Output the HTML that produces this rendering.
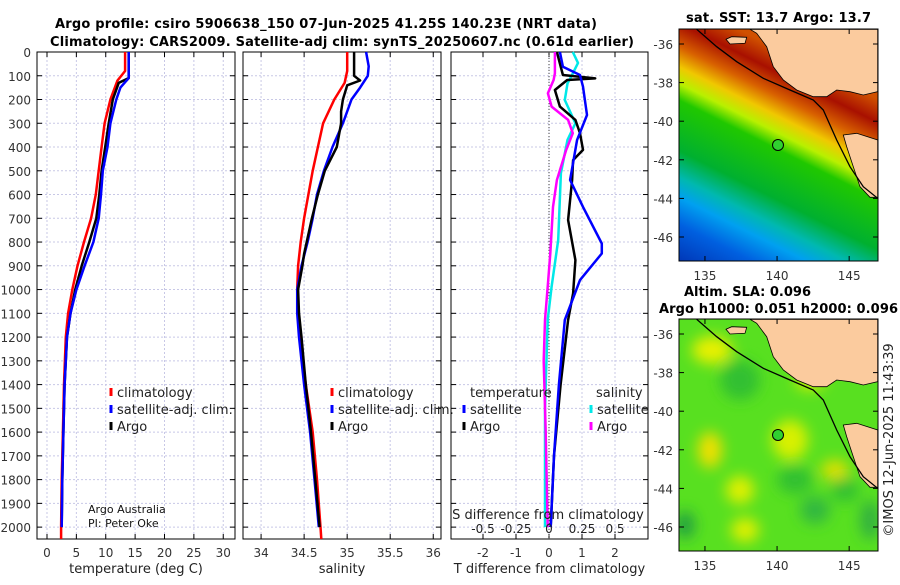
<!DOCTYPE html>
<html><head><meta charset="utf-8"><style>
body{margin:0;background:#fff}
svg text{font-family:"DejaVu Sans","Liberation Sans",sans-serif}
</style></head><body>
<svg id="s" width="900" height="580" viewBox="0 0 900 580" xmlns="http://www.w3.org/2000/svg">
<defs>
<linearGradient id="sst" gradientUnits="userSpaceOnUse" x1="760" y1="0" x2="626" y2="268">
<stop offset="0.12" stop-color="#d05000"/><stop offset="0.19" stop-color="#a81000"/>
<stop offset="0.26" stop-color="#d86000"/><stop offset="0.32" stop-color="#f0c800"/>
<stop offset="0.37" stop-color="#b8f000"/><stop offset="0.42" stop-color="#20c800"/>
<stop offset="0.57" stop-color="#00b030"/><stop offset="0.65" stop-color="#00b8b0"/>
<stop offset="0.71" stop-color="#00a0f0"/><stop offset="0.79" stop-color="#0060e0"/>
<stop offset="0.92" stop-color="#0030b0"/></linearGradient>
<filter id="bl"><feGaussianBlur stdDeviation="7"/></filter>
<clipPath id="c1"><rect x="679" y="29" width="199" height="232"/></clipPath>
<clipPath id="c2"><rect x="679" y="319" width="199" height="232"/></clipPath>
</defs>
<text x="55" y="28" font-size="13" font-weight="bold" textLength="542">Argo profile: csiro 5906638_150 07-Jun-2025 41.25S 140.23E (NRT data)</text>
<text x="50" y="46" font-size="13" font-weight="bold" textLength="584">Climatology: CARS2009. Satellite-adj clim: synTS_20250607.nc (0.61d earlier)</text>
<g id="panels"></g>

<!-- SST map -->
<g>
<text x="686" y="22" font-size="13" font-weight="bold" textLength="185">sat. SST: 13.7 Argo: 13.7</text>
<g clip-path="url(#c1)">
<rect x="679" y="29" width="199" height="232" fill="url(#sst)"/>
<g id="land1"></g>
</g>
<rect x="679" y="29" width="199" height="232" fill="none" stroke="#000" stroke-width="1"/>
<circle cx="778" cy="145" r="5.5" fill="#30d030" stroke="#000"/>
</g>
<!-- SLA map -->
<g>
<text x="684" y="296" font-size="13" font-weight="bold" textLength="127">Altim. SLA: 0.096</text>
<text x="659" y="313" font-size="13" font-weight="bold" textLength="239">Argo h1000: 0.051 h2000: 0.096</text>
<g clip-path="url(#c2)">
<rect x="679" y="319" width="199" height="232" fill="#58e020"/>
<g filter="url(#bl)">
<ellipse cx="712" cy="350" rx="20" ry="14" fill="#e8f000"/>
<ellipse cx="740" cy="380" rx="20" ry="20" fill="#30c030"/>
<ellipse cx="710" cy="450" rx="12" ry="18" fill="#f0e000"/>
<ellipse cx="740" cy="490" rx="14" ry="14" fill="#e0f000"/>
<ellipse cx="790" cy="440" rx="18" ry="20" fill="#d8f000"/>
<ellipse cx="795" cy="480" rx="18" ry="14" fill="#30c030"/>
<ellipse cx="815" cy="510" rx="15" ry="14" fill="#30b840"/>
<ellipse cx="835" cy="470" rx="14" ry="10" fill="#e0e000"/>
<ellipse cx="845" cy="490" rx="14" ry="12" fill="#30c030"/>
<ellipse cx="685" cy="525" rx="10" ry="14" fill="#20a040"/>
<ellipse cx="745" cy="530" rx="14" ry="12" fill="#e0f000"/>
<ellipse cx="810" cy="380" rx="15" ry="10" fill="#d0f000"/>
<ellipse cx="870" cy="520" rx="10" ry="20" fill="#30b040"/>
</g>
<g id="land2"></g>
</g>
<rect x="679" y="319" width="199" height="232" fill="none" stroke="#000" stroke-width="1"/>
<circle cx="778" cy="435" r="5.5" fill="#30d030" stroke="#000"/>
</g>
<text transform="translate(893,440) rotate(-90)" text-anchor="middle" font-size="13" fill="#222">©IMOS 12-Jun-2025 11:43:39</text>
</svg>
<script>
// ---------- data ----------
const depthTicks=[0,100,200,300,400,500,600,700,800,900,1000,1100,1200,1300,1400,1500,1600,1700,1800,1900,2000];
const tempTicks=[0,5,10,15,20,25,30];
const salTicks=[34,34.5,35,35.5,36];
const salTickLabels=["34","34.5","35","35.5","36"];
const tdiffTicks=[-2,-1,0,1,2];
const sdiffTicks=[-0.5,-0.25,0,0.25,0.5];
const sdiffTickLabels=["-0.5","-0.25","0","0.25","0.5"];

const tClimDepth=[0,80,120,200,300,400,500,600,700,800,900,1000,1100,1200,1400,1600,1800,2000,2050];
const tClim=[13.3,13.3,12.0,10.8,9.8,9.3,8.8,8.3,7.5,6.3,5.2,4.3,3.6,3.2,2.9,2.7,2.5,2.4,2.4];
const tSatDepth=[0,110,150,200,300,400,500,600,700,800,900,1000,1100,1200,1400,1600,1800,2000];
const tSat=[13.9,13.9,12.5,11.8,10.8,10.3,9.5,9.2,8.8,7.9,6.4,5.0,4.0,3.4,3.0,2.8,2.6,2.5];
const tArgoDepth=[0,110,130,200,300,400,500,600,700,800,900,1000,1100,1200,1400,1600,1800,2000];
const tArgo=[13.9,13.9,12.2,11.2,10.5,9.9,9.3,8.9,8.4,7.2,5.9,4.8,4.0,3.4,3.0,2.8,2.6,2.5];

const sClimDepth=[0,80,130,200,300,400,500,600,700,800,900,1000,1100,1200,1400,1600,1800,2000,2050];
const sClim=[35.0,35.0,34.97,34.85,34.72,34.66,34.6,34.55,34.5,34.46,34.43,34.42,34.43,34.45,34.52,34.6,34.65,34.69,34.7];
const sSatDepth=[0,60,100,150,200,300,400,500,600,700,800,900,1000,1100,1200,1400,1600,1800,2000];
const sSat=[35.22,35.25,35.24,35.15,35.05,34.95,34.83,34.73,34.65,34.6,34.54,34.47,34.42,34.42,34.44,34.5,34.57,34.62,34.67];
const sArgoDepth=[0,100,120,140,200,250,300,400,500,600,700,800,850,900,1000,1100,1200,1400,1600,1800,2000];
const sArgo=[35.08,35.08,35.15,35.0,34.95,34.93,34.93,34.88,34.74,34.66,34.59,34.53,34.5,34.48,34.43,34.44,34.47,34.52,34.58,34.63,34.68];

const dTSatDepth=[0,62,97,146,265,370,539,652,806,848,960,1128,1400,1700,2000];
const dTSat=[0.33,0.42,0.94,1.03,1.15,0.85,0.64,1.03,1.6,1.6,0.94,0.48,0.3,0.15,0.05];
const dTArgoDepth=[0,97,111,118,160,230,286,342,412,455,539,707,876,1016,1128,1400,1700,2000];
const dTArgo=[0.24,0.42,1.4,0.55,0.18,0.33,0.8,0.94,1.03,0.73,0.7,0.58,0.8,0.73,0.58,0.35,0.15,0.05];
const dSSatDepth=[0,46,90,132,202,300,370,510,792,988,1128,1500,2000];
const dSSat=[0.18,0.22,0.18,0.14,0.12,0.2,0.14,0.09,0.07,0.02,-0.01,-0.03,-0.03];
const dSArgoDepth=[0,90,118,174,230,286,342,412,539,652,848,988,1128,1300,1600,2000];
const dSArgo=[0.045,0.045,0.035,-0.008,0.02,0.145,0.18,0.13,0.06,0.03,0.01,-0.01,-0.03,-0.04,-0.025,-0.01];

const lonTicks=[135,140,145];
const latTicks=[-36,-38,-40,-42,-44,-46];
// ---------- axes ----------
const NS="http://www.w3.org/2000/svg";
const Y0=52,Y1=539,DMAX=2050;
const yD=d=>Y0+(Y1-Y0)*d/DMAX;
function mk(tag,attrs,parent){const e=document.createElementNS(NS,tag);for(const k in attrs)e.setAttribute(k,attrs[k]);parent.appendChild(e);return e;}
const root=document.getElementById('panels');
function panel(name,x0,x1,vmin,vmax,ticks,labels,xlabel,showY){
  const g=mk('g',{},root);
  
  
  const xs=v=>x0+(x1-x0)*(v-vmin)/(vmax-vmin);
  depthTicks.forEach(d=>{
    const l=mk('line',{x1:x0,x2:x1,y1:yD(d),y2:yD(d),stroke:'#c8c8e6','stroke-dasharray':'2,2'},g);
    
    
    mk('line',{x1:x0,x2:x0+5,y1:yD(d),y2:yD(d),stroke:'#000'},g);
    mk('line',{x1:x1-5,x2:x1,y1:yD(d),y2:yD(d),stroke:'#000'},g);
    if(showY){const t=mk('text',{x:31,y:yD(d)+5,'font-size':12,'text-anchor':'end',fill:'#333'},g);t.textContent=d;
      
      }
  });
  ticks.forEach((v,i)=>{
    const l=mk('line',{x1:xs(v),x2:xs(v),y1:Y0,y2:Y1,stroke:'#c8c8e6','stroke-dasharray':'2,2'},g);
    
    
    mk('line',{x1:xs(v),x2:xs(v),y1:Y1,y2:Y1-5,stroke:'#000'},g);
    mk('line',{x1:xs(v),x2:xs(v),y1:Y0,y2:Y0+5,stroke:'#000'},g);
    const t=mk('text',{x:xs(v),y:557,'font-size':12,'text-anchor':'middle',fill:'#333'},g);t.textContent=labels[i];
    
    
  });
  mk('rect',{x:x0,y:Y0,width:x1-x0,height:Y1-Y0,fill:'none',stroke:'#000'},g);
  const xl=mk('text',{x:(x0+x1)/2,y:573,'font-size':13,'text-anchor':'middle',fill:'#222'},g);xl.textContent=xlabel;
  
  
  return {g,xs};
}
function line(p,xs,depths,vals,color,name,w){
  const pts=vals.map((v,i)=>xs(v).toFixed(1)+','+yD(depths[i]).toFixed(1)).join(' ');
  const e=mk('polyline',{points:pts,fill:'none',stroke:color,'stroke-width':w||2.5,'stroke-linejoin':'round'},p.g);
  
  
}
function legend(g,x,y,color,label){
  mk('line',{x1:x,x2:x,y1:y-9,y2:y-1,stroke:color,'stroke-width':3},g);
  const t=mk('text',{x:x+6,y:y,'font-size':13,fill:'#222'},g);t.textContent=label;
  
  
}
// Temperature
const p1=panel('temperature-panel',37,235,-1.7,32,tempTicks,tempTicks.map(String),'temperature (deg C)',true);
line(p1,p1.xs,tClimDepth,tClim,'#f00','temp-climatology-line');
line(p1,p1.xs,tArgoDepth,tArgo,'#000','temp-argo-line');
line(p1,p1.xs,tSatDepth,tSat,'#00f','temp-satellite-line');
legend(p1.g,111,397,'#f00','climatology');legend(p1.g,111,414,'#00f','satellite-adj. clim.');legend(p1.g,111,431,'#000','Argo');
let t=mk('text',{x:88,y:513,'font-size':11,fill:'#111'},p1.g);t.textContent='Argo Australia';
t=mk('text',{x:88,y:527,'font-size':11,fill:'#111'},p1.g);t.textContent='PI: Peter Oke';
// Salinity
const p2=panel('salinity-panel',243,441,33.79,36.09,salTicks,salTickLabels,'salinity',false);
line(p2,p2.xs,sClimDepth,sClim,'#f00','sal-climatology-line');
line(p2,p2.xs,sSatDepth,sSat,'#00f','sal-satellite-line');
line(p2,p2.xs,sArgoDepth,sArgo,'#000','sal-argo-line');
legend(p2.g,332,397,'#f00','climatology');legend(p2.g,332,414,'#00f','satellite-adj. clim.');legend(p2.g,332,431,'#000','Argo');
// Difference
const p3=panel('difference-panel',451,648,-2.97,3,tdiffTicks,tdiffTicks.map(String),'T difference from climatology',false);
const xsS=v=>p3.xs(v*4);
mk('line',{x1:p3.xs(0),x2:p3.xs(0),y1:Y0,y2:Y1,stroke:'#444','stroke-dasharray':'1,2'},p3.g);
line(p3,xsS,dSSatDepth,dSSat,'#00e8e8','sdiff-satellite-line');
line(p3,p3.xs,dTArgoDepth,dTArgo,'#000','tdiff-argo-line');
line(p3,xsS,dSArgoDepth,dSArgo,'#f0f','sdiff-argo-line');
line(p3,p3.xs,dTSatDepth,dTSat,'#00f','tdiff-satellite-line');
t=mk('text',{x:470,y:397,'font-size':13,fill:'#222'},p3.g);t.textContent='temperature';
t=mk('text',{x:596,y:397,'font-size':13,fill:'#222'},p3.g);t.textContent='salinity';
legend(p3.g,464,414,'#00f','satellite');legend(p3.g,464,431,'#000','Argo');
legend(p3.g,591,414,'#00e8e8','satellite');legend(p3.g,591,431,'#f0f','Argo');
t=mk('text',{x:548,y:519,'font-size':13,'text-anchor':'middle',fill:'#222'},p3.g);t.textContent='S difference from climatology';
sdiffTicks.forEach((v,i)=>{const e=mk('text',{x:xsS(v),y:533,'font-size':12,'text-anchor':'middle',fill:'#222'},p3.g);e.textContent=sdiffTickLabels[i];
 
 });
// Maps
const LON0=133.2,LON1=147,MX0=679,MX1=878;
const mx=l=>MX0+(MX1-MX0)*(l-LON0)/(LON1-LON0);
const my=(la,top)=>top+15+(la+36)*(-19.3);
const s=document.getElementById('s');
[29,319].forEach((top,k)=>{
  const g=mk('g',{},s);
  
  
  lonTicks.forEach(l=>{mk('line',{x1:mx(l),x2:mx(l),y1:top+232,y2:top+227,stroke:'#000'},g);
    mk('line',{x1:mx(l),x2:mx(l),y1:top,y2:top+5,stroke:'#000'},g);
    const e=mk('text',{x:mx(l),y:top+251,'font-size':12,'text-anchor':'middle',fill:'#333'},g);e.textContent=l;
    
    });
  latTicks.forEach(la=>{const y=my(la,top);mk('line',{x1:MX0,x2:MX0+5,y1:y,y2:y,stroke:'#000'},g);
    mk('line',{x1:MX1-5,x2:MX1,y1:y,y2:y,stroke:'#000'},g);
    const e=mk('text',{x:673,y:y+5,'font-size':12,'text-anchor':'end',fill:'#333'},g);e.textContent=la;
    
    });
});
// land shapes (zoom coords -> px)
const mainland=[[300,88],[683,88],[683,275],[640,285],[600,275],[560,270],[530,290],[490,290],[440,270],[400,240],[370,200],[350,140],[320,100]];
const tas=[[580,405],[620,400],[683,420],[683,592],[660,592],[630,560],[610,500],[590,440]];
const kangaroo=[[228,118],[245,110],[290,112],[285,130],[240,132]];
const coast=[[140,88],[200,140],[260,185],[340,235],[420,270],[490,300],[520,330],[560,420],[600,500],[640,560],[683,595]];
['land1','land2'].forEach((id,k)=>{
  const g=document.getElementById(id);const off=k?290:0;
  const P=a=>a.map(p=>(650+p[0]/3).toFixed(1)+','+(p[1]/3+off).toFixed(1)).join(' ');
  [mainland,tas,kangaroo].forEach(a=>{const e=mk('polygon',{points:P(a),fill:'#fbcb9e',stroke:'#000','stroke-width':0.8},g);
    
    });
  const c=mk('polyline',{points:P(coast),fill:'none',stroke:'#000','stroke-width':1.3},g);
  
  
});
</script>
</body></html>
